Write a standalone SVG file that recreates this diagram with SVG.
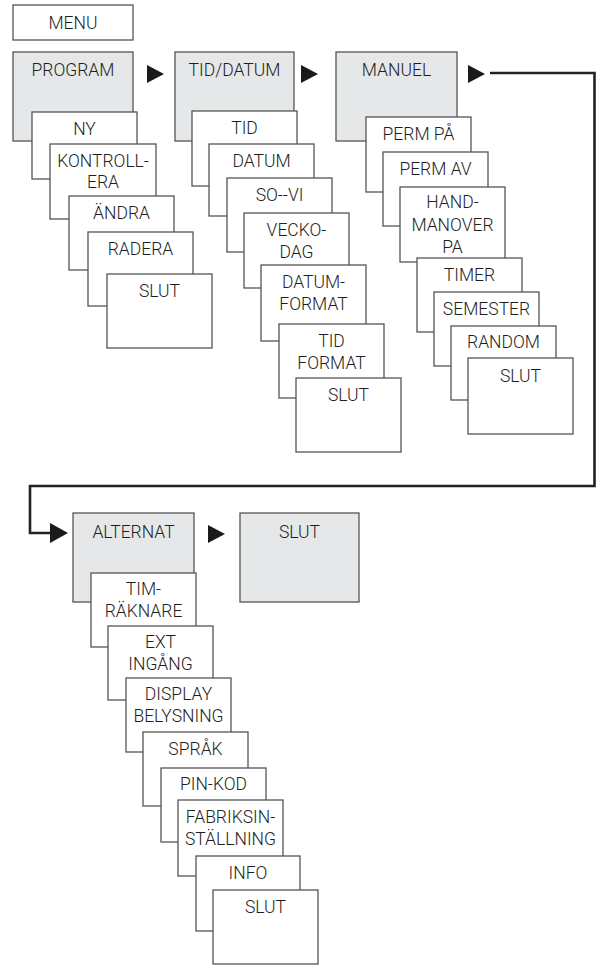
<svg xmlns="http://www.w3.org/2000/svg" width="596" height="967" viewBox="0 0 596 967">
<style>
.g{fill:#e6e7e8;stroke:#555;stroke-width:1.3}
.w{fill:#fff;stroke:#555;stroke-width:1.3}
text{font-family:Roboto,"Liberation Sans",sans-serif;font-size:17.5px;font-weight:300;fill:#1e1e1e;text-anchor:middle}
.c{fill:none;stroke:#222;stroke-width:2.6}
.a{fill:#1a1a1a}
</style>
<rect width="596" height="967" fill="#fff"/>
<g id="connectors">
<polygon class="a" points="147,65 164,74 147,83"/>
<polygon class="a" points="301,65 318,74 301,83"/>
<polygon class="a" points="468,65 485,74 468,83"/>
<polyline class="c" points="490,73 594.5,73 594.5,486 30,486 30,533 54,533"/>
<polygon class="a" points="50,523 68,533 50,543"/>
<polygon class="a" points="208,525 225,534 208,543"/>
</g>
<g id="menu"><rect class="w" x="13" y="5" width="120" height="35"/><text x="73" y="29">MENU</text></g>
<g id="program"><rect class="g" x="13" y="52" width="120" height="89"/><text x="73" y="76">PROGRAM</text></g>
<g id="ny"><rect class="w" x="32" y="112" width="105" height="67"/><text x="84.5" y="135">NY</text></g>
<g id="kontrollera"><rect class="w" x="50" y="144" width="106" height="75"/><text x="103" y="167">KONTROLL-</text><text x="103" y="188">ERA</text></g>
<g id="andra"><rect class="w" x="69" y="196" width="105" height="74"/><text x="121.5" y="219">ÄNDRA</text></g>
<g id="radera"><rect class="w" x="88" y="232" width="105" height="74"/><text x="140.5" y="255">RADERA</text></g>
<g id="slut1"><rect class="w" x="107" y="274" width="105" height="74"/><text x="159.5" y="297">SLUT</text></g>
<g id="tiddatum"><rect class="g" x="175" y="52" width="119" height="89"/><text x="234.5" y="76">TID/DATUM</text></g>
<g id="tid"><rect class="w" x="192" y="111" width="105" height="75"/><text x="244.5" y="134">TID</text></g>
<g id="datum"><rect class="w" x="209" y="144" width="105" height="72"/><text x="261.5" y="167">DATUM</text></g>
<g id="sovi"><rect class="w" x="227" y="178" width="105" height="74"/><text x="279.5" y="201">SO--VI</text></g>
<g id="veckodag"><rect class="w" x="244" y="213" width="105" height="75"/><text x="296.5" y="236">VECKO-</text><text x="296.5" y="258">DAG</text></g>
<g id="datumformat"><rect class="w" x="261" y="265" width="105" height="76"/><text x="313.5" y="288">DATUM-</text><text x="313.5" y="310">FORMAT</text></g>
<g id="tidformat"><rect class="w" x="279" y="324" width="105" height="74"/><text x="331.5" y="347">TID</text><text x="331.5" y="369">FORMAT</text></g>
<g id="slut2"><rect class="w" x="296" y="378" width="105" height="74"/><text x="348.5" y="401">SLUT</text></g>
<g id="manuel"><rect class="g" x="336" y="52" width="121" height="89"/><text x="396.5" y="76">MANUEL</text></g>
<g id="permpa"><rect class="w" x="366" y="117" width="105" height="75"/><text x="418.5" y="140">PERM PÅ</text></g>
<g id="permav"><rect class="w" x="383" y="152" width="105" height="74"/><text x="435.5" y="175">PERM AV</text></g>
<g id="handmanover"><rect class="w" x="400" y="187" width="105" height="75"/><text x="452.5" y="208">HAND-</text><text x="452.5" y="231">MANOVER</text><text x="452.5" y="253">PA</text></g>
<g id="timer"><rect class="w" x="417" y="258" width="105" height="74"/><text x="469.5" y="281">TIMER</text></g>
<g id="semester"><rect class="w" x="434" y="292" width="105" height="74"/><text x="486.5" y="315">SEMESTER</text></g>
<g id="random"><rect class="w" x="451" y="326" width="105" height="74"/><text x="503.5" y="348">RANDOM</text></g>
<g id="slut3"><rect class="w" x="468" y="358" width="105" height="76"/><text x="520.5" y="382">SLUT</text></g>
<g id="alternat"><rect class="g" x="73" y="513" width="121" height="89"/><text x="133.5" y="538">ALTERNAT</text></g>
<g id="slut-main"><rect class="g" x="240" y="513" width="119" height="89"/><text x="299.5" y="538">SLUT</text></g>
<g id="timraknare"><rect class="w" x="91" y="573" width="105" height="74"/><text x="143.5" y="595">TIM-</text><text x="143.5" y="617">RÄKNARE</text></g>
<g id="extingang"><rect class="w" x="108" y="626" width="105" height="74"/><text x="160.5" y="648">EXT</text><text x="160.5" y="670">INGÅNG</text></g>
<g id="display"><rect class="w" x="126" y="678" width="105" height="74"/><text x="178.5" y="700">DISPLAY</text><text x="178.5" y="722">BELYSNING</text></g>
<g id="sprak"><rect class="w" x="143" y="732" width="105" height="74"/><text x="195.5" y="755">SPRÅK</text></g>
<g id="pinkod"><rect class="w" x="161" y="768" width="105" height="74"/><text x="213.5" y="790">PIN-KOD</text></g>
<g id="fabriks"><rect class="w" x="178" y="800" width="105" height="76"/><text x="230.5" y="823">FABRIKSIN-</text><text x="230.5" y="845">STÄLLNING</text></g>
<g id="info"><rect class="w" x="196" y="856" width="104" height="75"/><text x="248" y="879">INFO</text></g>
<g id="slut4"><rect class="w" x="213" y="890" width="105" height="74"/><text x="265.5" y="913">SLUT</text></g>
</svg>
